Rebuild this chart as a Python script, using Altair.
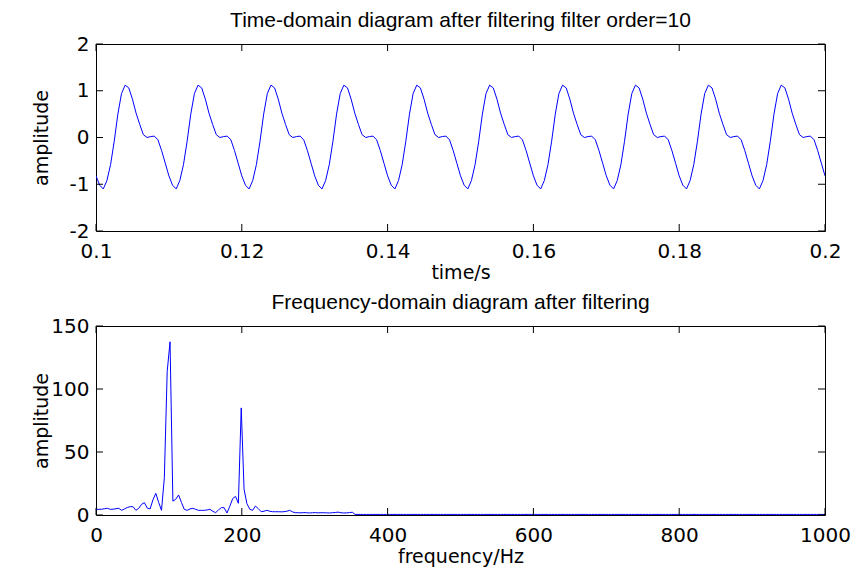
import altair as alt
import pandas as pd

# ---------------- data ----------------
# time-domain: samples every 0.5 ms from 0.1 s to 0.2 s; one 10 ms period
time_start = 0.1
time_step = 0.0005
time_count = 201
period_amplitude = [-0.82, -1.02, -1.10, -0.92, -0.58, -0.08, 0.50, 0.94, 1.12, 1.06,
                    0.82, 0.52, 0.28, 0.06, 0.00, 0.02, 0.03, -0.05, -0.28, -0.55]

# frequency-domain: bins 2000/512 Hz apart, 0 .. 1000 Hz
freq_step = 2000 / 512
freq_count = 257
spectrum_low = [4.5, 4.5, 4.6, 5.0, 5.3, 4.5, 4.6, 5.0, 5.3, 3.7,
                4.8, 6.0, 6.6, 6.6, 3.7, 5.3, 8.5, 9.8, 5.5, 4.8,
                12.0, 17.2, 10.0, 3.7, 29.6, 114.0, 137.5, 11.0, 12.5, 15.9,
                10.0, 4.5, 3.7, 4.8, 5.3, 4.5, 3.7, 3.7, 3.7, 4.0,
                4.5, 3.0, 1.8, 4.0, 5.8, 5.8, 1.6, 7.0, 13.0, 14.8,
                9.3, 85.0, 20.4, 9.0, 4.5, 3.7, 7.1, 5.0, 2.6, 3.0,
                3.7, 3.0, 2.6, 2.6, 2.6, 2.5, 2.6, 3.0, 3.7, 2.5,
                1.8, 1.8, 1.7, 1.9, 1.8, 1.6, 1.8, 1.9, 1.7, 1.8,
                1.8, 1.7, 1.6, 1.8, 2.0, 2.3, 1.8, 1.6, 1.7, 1.9,
                2.2]
spectrum_tail_level = 0.45

time_ticks = [0.1, 0.12, 0.14, 0.16, 0.18, 0.2]
time_amp_ticks = [-2, -1, 0, 1, 2]
freq_ticks = [0, 200, 400, 600, 800, 1000]
freq_amp_ticks = [0, 50, 100, 150]

# ---------------- tables ----------------
time_df = pd.DataFrame({
    "t": [time_start + k * time_step for k in range(time_count)],
    "a": [period_amplitude[k % len(period_amplitude)] for k in range(time_count)],
})
spec_vals = spectrum_low + [spectrum_tail_level] * (freq_count - len(spectrum_low))
freq_df = pd.DataFrame({
    "f": [k * freq_step for k in range(freq_count)],
    "a": spec_vals,
})

W = 729
H1 = 187
H2 = 189
TL = 7
FONT = "Liberation Sans"
AXFONT = "DejaVu Sans"
LINE = "#0000ff"


def panel(df, xf, yf, xdom, ydom, xticks, yticks, xtitle, title, H):
    xs = alt.Scale(domain=xdom, nice=False, zero=False)
    ys = alt.Scale(domain=ydom, nice=False, zero=False)
    xaxis = alt.Axis(values=xticks, title=xtitle, grid=False, ticks=False, domain=False,
                     labelExpr="'' + datum.value", labelFontSize=20, labelPadding=10,
                     labelFont=AXFONT, titleFont=AXFONT,
                     titleFontSize=19, titleFontWeight="normal", titlePadding=2,
                     labelColor="black", titleColor="black", labelFlush=False)
    yaxis = alt.Axis(values=yticks, title="amplitude", grid=False, ticks=False, domain=False,
                     labelExpr="'' + datum.value", labelFontSize=20, labelPadding=7,
                     labelFont=AXFONT, titleFont=AXFONT,
                     titleFontSize=19, titleFontWeight="normal", titleX=-55, titleY=H / 2,
                     titleAngle=270, titleAlign="center", titleBaseline="middle",
                     labelColor="black", titleColor="black", labelFlush=False)
    line = alt.Chart(df).mark_line(color=LINE, strokeWidth=1, clip=True).encode(
        x=alt.X(f"{xf}:Q", scale=xs, axis=xaxis),
        y=alt.Y(f"{yf}:Q", scale=ys, axis=yaxis),
    )
    xt = pd.DataFrame({"v": xticks})
    yt = pd.DataFrame({"v": yticks})
    xtop = alt.Chart(xt).mark_rule(color="black", strokeWidth=1).encode(
        x=alt.X("v:Q", scale=xs), y=alt.value(0), y2=alt.value(TL))
    xbot = alt.Chart(xt).mark_rule(color="black", strokeWidth=1).encode(
        x=alt.X("v:Q", scale=xs), y=alt.value(H - TL), y2=alt.value(H))
    yleft = alt.Chart(yt).mark_rule(color="black", strokeWidth=1).encode(
        y=alt.Y("v:Q", scale=ys), x=alt.value(0), x2=alt.value(TL))
    yright = alt.Chart(yt).mark_rule(color="black", strokeWidth=1).encode(
        y=alt.Y("v:Q", scale=ys), x=alt.value(W - TL), x2=alt.value(W))
    return alt.layer(line, xtop, xbot, yleft, yright).properties(
        width=W, height=H,
        title=alt.TitleParams(title, fontSize=21, fontWeight="normal", font=FONT,
                              color="black", anchor="middle", offset=3),
    )


top = panel(time_df, "t", "a", [0.1, 0.2], [-2, 2], time_ticks, time_amp_ticks,
            "time/s", "Time-domain diagram after filtering filter order=10", H1)
bottom = panel(freq_df, "f", "a", [0, 1000], [0, 150], freq_ticks, freq_amp_ticks,
               "frequency/Hz", "Frequency-domain diagram after filtering", H2)

chart = alt.vconcat(top, bottom, spacing=8).properties(
    padding={"left": 31, "top": 9, "right": 0, "bottom": 0},
    background="white",
).configure(font=FONT).configure_view(stroke="black", strokeWidth=1)

chart.save("out.html", embed_options={"renderer": "svg", "actions": False})
